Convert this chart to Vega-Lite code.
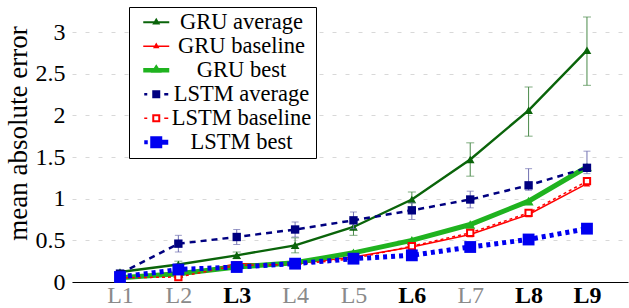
{
  "$schema": "https://vega.github.io/schema/vega-lite/v6.json",
  "autosize": "none",
  "width": 556,
  "height": 275,
  "padding": {"left": 72, "top": 7, "right": 1, "bottom": 26},
  "background": "white",
  "config": {
    "view": {"stroke": null},
    "font": "Liberation Serif",
    "legend": {
      "title": null,
      "orient": "none",
      "legendX": 57,
      "legendY": 0,
      "strokeColor": "black",
      "fillColor": "white",
      "cornerRadius": 0,
      "padding": 4,
      "labelFont": "Liberation Serif",
      "labelFontSize": 22.5,
      "labelColor": "black",
      "labelAlign": "center",
      "labelOffset": 74,
      "symbolOffset": 12,
      "symbolSize": 100,
      "symbolStrokeWidth": 0,
      "symbolOpacity": 1,
      "rowPadding": 1
    }
  },
  "data": {
    "values": [
      {"level": "L1", "series": "GRU average", "value": 0.12, "lo": 0.10, "hi": 0.14},
      {"level": "L2", "series": "GRU average", "value": 0.21, "lo": 0.18, "hi": 0.25},
      {"level": "L3", "series": "GRU average", "value": 0.32, "lo": 0.28, "hi": 0.36},
      {"level": "L4", "series": "GRU average", "value": 0.44, "lo": 0.35, "hi": 0.53},
      {"level": "L5", "series": "GRU average", "value": 0.66, "lo": 0.56, "hi": 0.76},
      {"level": "L6", "series": "GRU average", "value": 0.99, "lo": 0.90, "hi": 1.08},
      {"level": "L7", "series": "GRU average", "value": 1.47, "lo": 1.27, "hi": 1.67},
      {"level": "L8", "series": "GRU average", "value": 2.06, "lo": 1.75, "hi": 2.34},
      {"level": "L9", "series": "GRU average", "value": 2.78, "lo": 2.36, "hi": 3.18},
      {"level": "L1", "series": "GRU baseline", "value": 0.05},
      {"level": "L2", "series": "GRU baseline", "value": 0.08},
      {"level": "L3", "series": "GRU baseline", "value": 0.22},
      {"level": "L4", "series": "GRU baseline", "value": 0.22},
      {"level": "L5", "series": "GRU baseline", "value": 0.30},
      {"level": "L6", "series": "GRU baseline", "value": 0.42},
      {"level": "L7", "series": "GRU baseline", "value": 0.57},
      {"level": "L8", "series": "GRU baseline", "value": 0.81},
      {"level": "L9", "series": "GRU baseline", "value": 1.18},
      {"level": "L1", "series": "GRU best", "value": 0.05},
      {"level": "L2", "series": "GRU best", "value": 0.10},
      {"level": "L3", "series": "GRU best", "value": 0.18},
      {"level": "L4", "series": "GRU best", "value": 0.23},
      {"level": "L5", "series": "GRU best", "value": 0.35},
      {"level": "L6", "series": "GRU best", "value": 0.50},
      {"level": "L7", "series": "GRU best", "value": 0.69},
      {"level": "L8", "series": "GRU best", "value": 0.97},
      {"level": "L9", "series": "GRU best", "value": 1.38},
      {"level": "L1", "series": "LSTM average", "value": 0.10, "lo": 0.08, "hi": 0.12},
      {"level": "L2", "series": "LSTM average", "value": 0.46, "lo": 0.36, "hi": 0.56},
      {"level": "L3", "series": "LSTM average", "value": 0.54, "lo": 0.45, "hi": 0.63},
      {"level": "L4", "series": "LSTM average", "value": 0.63, "lo": 0.54, "hi": 0.72},
      {"level": "L5", "series": "LSTM average", "value": 0.74, "lo": 0.64, "hi": 0.84},
      {"level": "L6", "series": "LSTM average", "value": 0.86, "lo": 0.75, "hi": 0.95},
      {"level": "L7", "series": "LSTM average", "value": 0.99, "lo": 0.89, "hi": 1.09},
      {"level": "L8", "series": "LSTM average", "value": 1.16, "lo": 1.10, "hi": 1.36},
      {"level": "L9", "series": "LSTM average", "value": 1.37, "lo": 1.30, "hi": 1.57},
      {"level": "L1", "series": "LSTM baseline", "value": 0.05},
      {"level": "L2", "series": "LSTM baseline", "value": 0.06},
      {"level": "L3", "series": "LSTM baseline", "value": 0.20},
      {"level": "L4", "series": "LSTM baseline", "value": 0.21},
      {"level": "L5", "series": "LSTM baseline", "value": 0.28},
      {"level": "L6", "series": "LSTM baseline", "value": 0.43},
      {"level": "L7", "series": "LSTM baseline", "value": 0.59},
      {"level": "L8", "series": "LSTM baseline", "value": 0.83},
      {"level": "L9", "series": "LSTM baseline", "value": 1.21},
      {"level": "L1", "series": "LSTM best", "value": 0.06},
      {"level": "L2", "series": "LSTM best", "value": 0.15},
      {"level": "L3", "series": "LSTM best", "value": 0.18},
      {"level": "L4", "series": "LSTM best", "value": 0.22},
      {"level": "L5", "series": "LSTM best", "value": 0.28},
      {"level": "L6", "series": "LSTM best", "value": 0.32},
      {"level": "L7", "series": "LSTM best", "value": 0.42},
      {"level": "L8", "series": "LSTM best", "value": 0.51},
      {"level": "L9", "series": "LSTM best", "value": 0.64}
    ]
  },
  "encoding": {
    "x": {
      "field": "level",
      "type": "ordinal",
      "scale": {"type": "point", "padding": 0.7624, "align": 0.539},
      "axis": {
        "title": null,
        "labelAngle": 0,
        "labelFont": "Liberation Serif",
        "labelFontSize": 24,
        "labelPadding": 1,
        "labelColor": {"condition": {"test": "indexof(['L3','L6','L8','L9'], datum.value) >= 0", "value": "black"}, "value": "#8a8a8a"},
        "labelFontWeight": {"condition": {"test": "indexof(['L3','L6','L8','L9'], datum.value) >= 0", "value": "bold"}, "value": "normal"},
        "ticks": false,
        "tickSize": 0,
        "domain": true,
        "domainColor": "black",
        "domainWidth": 1.2,
        "grid": false
      }
    },
    "y": {
      "field": "value",
      "type": "quantitative",
      "scale": {"domain": [0, 3.3], "nice": false, "zero": true},
      "axis": {
        "title": "mean absolute error",
        "titleFont": "Liberation Serif",
        "titleFontSize": 27,
        "titleFontWeight": "normal",
        "titleColor": "black",
        "titleAngle": 270,
        "titleAlign": "center",
        "titleBaseline": "alphabetic",
        "titleX": -46,
        "titleY": 126,
        "values": [0, 0.5, 1, 1.5, 2, 2.5, 3],
        "format": "~g",
        "labelFont": "Liberation Serif",
        "labelFontSize": 24,
        "labelColor": "black",
        "labelPadding": 7,
        "ticks": false,
        "tickSize": 0,
        "domain": false,
        "grid": true,
        "gridColor": "#d8d8d8",
        "gridDash": [4, 9],
        "gridWidth": 1
      }
    }
  },
  "layer": [
    {
      "mark": {"type": "point", "filled": true, "opacity": 0},
      "encoding": {
        "color": {
          "field": "series",
          "type": "nominal",
          "scale": {
            "domain": ["GRU average", "GRU baseline", "GRU best", "LSTM average", "LSTM baseline", "LSTM best"],
            "range": ["#0a640a", "#ff0000", "#1fb31f", "#000080", "#ff0000", "#0000f0"]
          }
        },
        "shape": {
          "field": "series",
          "type": "nominal",
          "scale": {
            "domain": ["GRU average", "GRU baseline", "GRU best", "LSTM average", "LSTM baseline", "LSTM best"],
            "range": [
              "M-2.6,-0.2H2.6V0.2H-2.6Z M-0.8,0.45L0,-0.9L0.8,0.45Z",
              "M-2.6,-0.15H2.6V0.15H-2.6Z M-0.65,0.4L0,-0.75L0.65,0.4Z",
              "M-2.6,-0.45H2.6V0.45H-2.6Z M-1.1,0.5L0,-1.2L1.1,0.5Z",
              "M-2.4,-0.25H-1.8V0.25H-2.4Z M-0.8,-0.8H0.8V0.8H-0.8Z M1.6,-0.25H2.4V0.25H1.6Z",
              "M-2.4,-0.15H-1.8V0.15H-2.4Z M-0.8,-0.8H0.8V0.8H-0.8Z M-0.4,-0.4V0.4H0.4V-0.4Z M1.6,-0.15H2.4V0.15H1.6Z",
              "M-2.4,-0.4H-1.7V0.4H-2.4Z M-1.2,-1.2H1.2V1.2H-1.2Z M1.2,-0.5H2.4V0.5H1.2Z"
            ]
          }
        }
      }
    },
    {
      "transform": [{"filter": "datum.series === 'GRU average'"}],
      "mark": {"type": "rule", "color": "#4a8a4a", "strokeWidth": 1},
      "encoding": {"y": {"field": "lo", "type": "quantitative"}, "y2": {"field": "hi"}}
    },
    {
      "transform": [{"filter": "datum.series === 'GRU average'"}],
      "mark": {"type": "tick", "color": "#4a8a4a", "size": 8, "thickness": 1},
      "encoding": {"y": {"field": "lo", "type": "quantitative"}}
    },
    {
      "transform": [{"filter": "datum.series === 'GRU average'"}],
      "mark": {"type": "tick", "color": "#4a8a4a", "size": 8, "thickness": 1},
      "encoding": {"y": {"field": "hi", "type": "quantitative"}}
    },
    {
      "transform": [{"filter": "datum.series === 'GRU average'"}],
      "mark": {"type": "line", "color": "#0a640a", "strokeWidth": 2.4,
        "point": {"shape": "triangle-up", "size": 75, "filled": true, "fill": "#0a640a", "stroke": null}}
    },
    {
      "transform": [{"filter": "datum.series === 'GRU baseline'"}],
      "mark": {"type": "line", "color": "#ff0000", "strokeWidth": 1.5,
        "point": {"shape": "triangle-up", "size": 40, "filled": true, "fill": "#ff0000", "stroke": null}}
    },
    {
      "transform": [{"filter": "datum.series === 'GRU best'"}],
      "mark": {"type": "line", "color": "#1fb31f", "strokeWidth": 5,
        "point": {"shape": "triangle-up", "size": 100, "filled": true, "fill": "#1fb31f", "stroke": null}}
    },
    {
      "transform": [{"filter": "datum.series === 'LSTM average'"}],
      "mark": {"type": "rule", "color": "#7070b0", "strokeWidth": 1},
      "encoding": {"y": {"field": "lo", "type": "quantitative"}, "y2": {"field": "hi"}}
    },
    {
      "transform": [{"filter": "datum.series === 'LSTM average'"}],
      "mark": {"type": "tick", "color": "#7070b0", "size": 7, "thickness": 1},
      "encoding": {"y": {"field": "lo", "type": "quantitative"}}
    },
    {
      "transform": [{"filter": "datum.series === 'LSTM average'"}],
      "mark": {"type": "tick", "color": "#7070b0", "size": 7, "thickness": 1},
      "encoding": {"y": {"field": "hi", "type": "quantitative"}}
    },
    {
      "transform": [{"filter": "datum.series === 'LSTM average'"}],
      "mark": {"type": "line", "color": "#000080", "strokeWidth": 2.5, "strokeDash": [6, 5],
        "point": {"shape": "square", "size": 70, "filled": true, "fill": "#000080", "stroke": null}}
    },
    {
      "transform": [{"filter": "datum.series === 'LSTM baseline'"}],
      "mark": {"type": "line", "color": "#ff0000", "strokeWidth": 1.5, "strokeDash": [3, 3],
        "point": {"shape": "square", "size": 40, "filled": true, "fill": "white", "stroke": "#ff0000", "strokeWidth": 2, "strokeDash": [1, 0]}}
    },
    {
      "transform": [{"filter": "datum.series === 'LSTM best'"}],
      "mark": {"type": "line", "color": "#0000f0", "strokeWidth": 5, "strokeDash": [4, 4],
        "point": {"shape": "square", "size": 140, "filled": true, "fill": "#0000f0", "stroke": null}}
    }
  ]
}
